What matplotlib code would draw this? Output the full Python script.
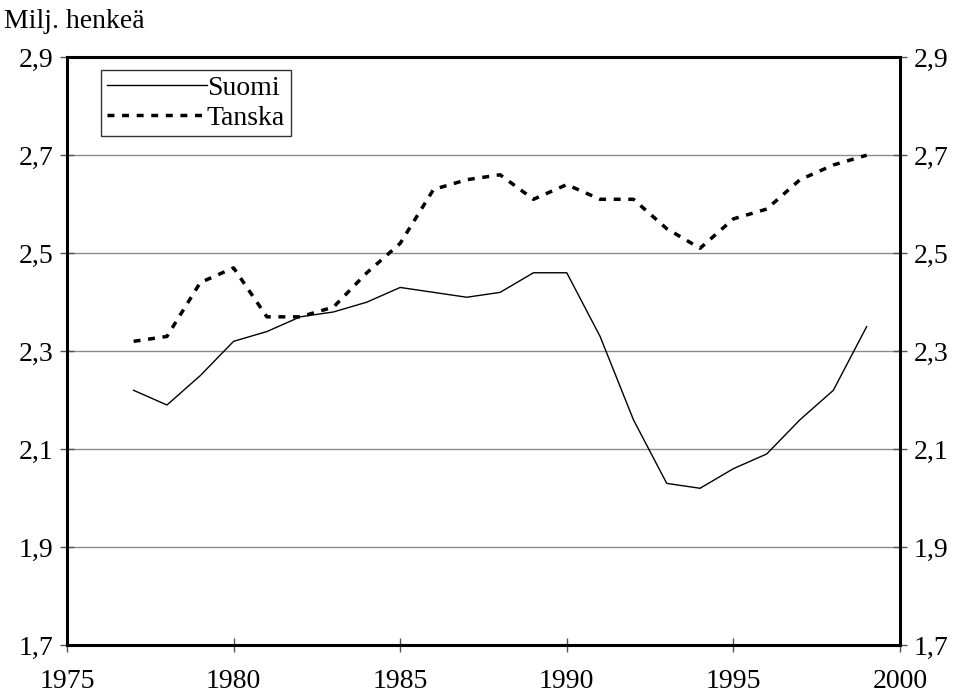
import numpy as np
import matplotlib.pyplot as plt

plt.rcParams['font.family'] = ['Liberation Serif', 'DejaVu Serif']

years = list(range(1977, 2000))
suomi = [2.22, 2.19, 2.25, 2.32, 2.34, 2.37, 2.38, 2.40, 2.43, 2.42, 2.41, 2.42,
         2.46, 2.46, 2.33, 2.16, 2.03, 2.02, 2.06, 2.09, 2.16, 2.22, 2.35]
tanska = [2.32, 2.33, 2.44, 2.47, 2.37, 2.37, 2.39, 2.46, 2.52, 2.63, 2.65, 2.66,
          2.61, 2.64, 2.61, 2.61, 2.55, 2.51, 2.57, 2.59, 2.65, 2.68, 2.70]
yticks = [1.7, 1.9, 2.1, 2.3, 2.5, 2.7, 2.9]
ylabels = ['1,7', '1,9', '2,1', '2,3', '2,5', '2,7', '2,9']
xticks = [1975, 1980, 1985, 1990, 1995, 2000]

fig = plt.figure(figsize=(9.57, 6.98), dpi=100)
ax = fig.add_axes([0.070, 0.0759, 0.8704, 0.8421])

for y in yticks[1:-1]:
    ax.axhline(y, color='#8c8c8c', lw=1.0, zorder=1)

ax.plot(years, suomi, color='black', lw=1.0, label='Suomi', zorder=3)
ax.plot(years, tanska, color='black', lw=2.5, dashes=(2.0, 2.2), label='Tanska', zorder=3)

ax.set_xlim(1975, 2000)
ax.set_ylim(1.7, 2.9)
ax.set_xticks(xticks)
ax.set_yticks(yticks)
ax.set_yticklabels(ylabels)
ax.tick_params(axis='both', direction='inout', length=10, width=1, color='#555555',
               labelsize=20, pad=5)
ax.tick_params(axis='x', pad=12)
ax.tick_params(axis='y', right=True, labelright=True)
for s in ax.spines.values():
    s.set_linewidth(2.2)

fig.text(0.004, 0.952, 'Milj. henkeä', fontsize=20, ha='left', va='bottom')

leg = ax.legend(loc='upper left', bbox_to_anchor=(0.041, 0.978), fontsize=20,
                frameon=True, fancybox=False, edgecolor='black', handlelength=3.6,
                handletextpad=0.0, borderpad=0.2, labelspacing=0.15, borderaxespad=0)
leg.get_frame().set_linewidth(1.0)

plt.savefig('out.png', dpi=100)
